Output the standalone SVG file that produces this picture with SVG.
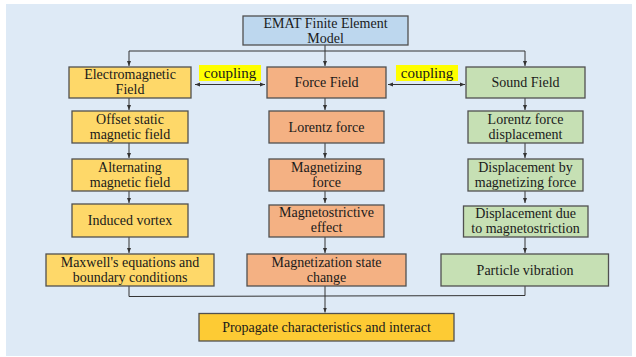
<svg xmlns="http://www.w3.org/2000/svg" width="636" height="357" viewBox="0 0 636 357">
<defs>
<marker id="ah" viewBox="0 0 10 10" refX="10" refY="5" markerWidth="5" markerHeight="5" orient="auto-start-reverse" markerUnits="userSpaceOnUse">
<path d="M0,1 L10,5 L0,9 z" fill="#333"/>
</marker>
<style>
.bx{stroke:#505050;stroke-width:1.3}
.y{fill:#fed869}
.o{fill:#f4b183}
.g{fill:#c6e0b4}
.b{fill:#bdd7ee}
.yb{fill:#fdcb34}
.cp{fill:#ffff00}
.t{font-size:14px;fill:#1a1a1a;text-anchor:middle}
.ct{font-size:15px}
.ln{stroke:#333;stroke-width:1;fill:none}
</style>
</defs>
<rect x="6" y="4" width="626" height="352" fill="#deeaf6"/>

<g id="connectors">
<path class="ln" d="M325,45 V51"/>
<path class="ln" d="M129,51 H525"/>
<path class="ln" d="M129,51 V66" marker-end="url(#ah)"/>
<path class="ln" d="M325,51 V66" marker-end="url(#ah)"/>
<path class="ln" d="M525,51 V66" marker-end="url(#ah)"/>
<path class="ln" d="M195,84.5 H265" marker-start="url(#ah)" marker-end="url(#ah)"/>
<path class="ln" d="M388,84.5 H465" marker-start="url(#ah)" marker-end="url(#ah)"/>
<path class="ln" d="M129,98 V110" marker-end="url(#ah)"/>
<path class="ln" d="M129,143 V158" marker-end="url(#ah)"/>
<path class="ln" d="M129,191 V203" marker-end="url(#ah)"/>
<path class="ln" d="M129,237 V253" marker-end="url(#ah)"/>
<path class="ln" d="M325,98 V110" marker-end="url(#ah)"/>
<path class="ln" d="M325,143 V158" marker-end="url(#ah)"/>
<path class="ln" d="M325,191 V203" marker-end="url(#ah)"/>
<path class="ln" d="M325,237 V253" marker-end="url(#ah)"/>
<path class="ln" d="M525,98 V110" marker-end="url(#ah)"/>
<path class="ln" d="M525,143 V158" marker-end="url(#ah)"/>
<path class="ln" d="M525,191 V203" marker-end="url(#ah)"/>
<path class="ln" d="M525,237 V253" marker-end="url(#ah)"/>
<path class="ln" d="M129,286 V296.5 L525,295.5 V286"/>
<path class="ln" d="M325,286 V312.5" marker-end="url(#ah)"/>
</g>

<g class="t" font-family="'Liberation Serif', 'DejaVu Serif', serif">
<g id="top">
<rect class="bx b" x="243" y="16" width="165" height="29"/>
<text x="325.5" y="28">EMAT Finite Element</text>
<text x="325.5" y="42.5">Model</text>
</g>

<g id="coupling1">
<rect class="cp" x="199" y="65" width="62" height="16"/>
<text class="ct" x="230" y="77.5">coupling</text>
</g>
<g id="coupling2">
<rect class="cp" x="396" y="65" width="62" height="16"/>
<text class="ct" x="427" y="77.5">coupling</text>
</g>

<g id="em">
<rect class="bx y" x="69" y="67" width="122" height="31"/>
<text x="130" y="78.5">Electromagnetic</text>
<text x="130" y="93.5">Field</text>
</g>
<g id="force">
<rect class="bx o" x="267" y="67" width="119" height="31"/>
<text x="326.5" y="87">Force Field</text>
</g>
<g id="sound">
<rect class="bx g" x="466" y="67" width="119" height="31"/>
<text x="525.5" y="87">Sound Field</text>
</g>

<g id="offset">
<rect class="bx y" x="72" y="111" width="116" height="32"/>
<text x="130" y="123.5">Offset static</text>
<text x="130" y="138.5">magnetic field</text>
</g>
<g id="lorentz">
<rect class="bx o" x="269" y="111" width="115" height="32"/>
<text x="326.5" y="131.5">Lorentz force</text>
</g>
<g id="lorentzdisp">
<rect class="bx g" x="468" y="111" width="115" height="32"/>
<text x="525.5" y="123.5">Lorentz force</text>
<text x="525.5" y="138.5">displacement</text>
</g>

<g id="alt">
<rect class="bx y" x="72" y="159" width="116" height="32"/>
<text x="130" y="171.5">Alternating</text>
<text x="130" y="186.5">magnetic field</text>
</g>
<g id="magforce">
<rect class="bx o" x="269" y="159" width="115" height="32"/>
<text x="326.5" y="171.5">Magnetizing</text>
<text x="326.5" y="186.5">force</text>
</g>
<g id="dispmag">
<rect class="bx g" x="468" y="159" width="115" height="32"/>
<text x="525.5" y="171.5">Displacement by</text>
<text x="525.5" y="186.5">magnetizing force</text>
</g>

<g id="vortex">
<rect class="bx y" x="72" y="204" width="116" height="33"/>
<text x="130" y="224.5">Induced vortex</text>
</g>
<g id="magstrict">
<rect class="bx o" x="269" y="205" width="115" height="32"/>
<text x="326.5" y="217">Magnetostrictive</text>
<text x="326.5" y="232">effect</text>
</g>
<g id="dispstrict">
<rect class="bx g" x="463.5" y="206" width="124.5" height="31"/>
<text x="525.5" y="218">Displacement due</text>
<text x="525.5" y="232.5">to magnetostriction</text>
</g>

<g id="maxwell">
<rect class="bx y" x="46" y="254" width="168" height="32"/>
<text x="130" y="266.5">Maxwell's equations and</text>
<text x="130" y="281.5">boundary conditions</text>
</g>
<g id="magstate">
<rect class="bx o" x="247" y="254" width="159" height="32"/>
<text x="326.5" y="266.5">Magnetization state</text>
<text x="326.5" y="281.5">change</text>
</g>
<g id="particle">
<rect class="bx g" x="441" y="254" width="167.5" height="32"/>
<text x="525" y="274.5">Particle vibration</text>
</g>

<g id="propagate">
<rect class="bx yb" x="199" y="313.5" width="255" height="27.5"/>
<text x="326.5" y="332">Propagate characteristics and interact</text>
</g>
</g>
</svg>
